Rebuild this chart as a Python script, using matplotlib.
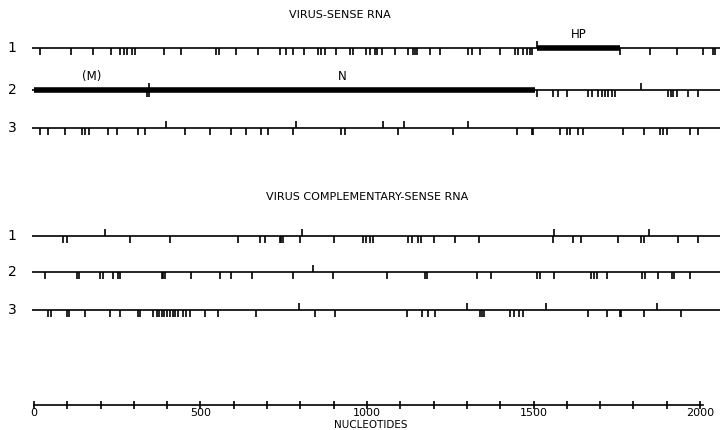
import matplotlib
matplotlib.use('Agg')
import matplotlib.pyplot as plt

# stop codons (down ticks) and start codons (up ticks), in nucleotides
vs1_stops = [18, 110, 178, 230, 258, 270, 280, 293, 303, 390, 443, 548, 556, 606, 673,
             740, 758, 778, 810, 853, 863, 873, 908, 948, 958, 998, 1008, 1023, 1029,
             1044, 1084, 1124, 1139, 1144, 1149, 1189, 1219, 1304, 1314, 1339, 1399,
             1444, 1452, 1469, 1479, 1489, 1494, 1760, 1850, 1930, 2010, 2040, 2045]
vs1_starts = [1510]
vs2_stops = [338, 345, 1510, 1560, 1573, 1600, 1663, 1675, 1695, 1707, 1715, 1725,
             1737, 1745, 1905, 1913, 1920, 1930, 1965, 1995]
vs2_starts = [345, 1823]
vs3_stops = [18, 43, 93, 143, 153, 166, 223, 248, 313, 333, 453, 528, 593, 638, 683,
             703, 778, 923, 933, 1094, 1259, 1449, 1494, 1497, 1579, 1600, 1610, 1634,
             1649, 1770, 1833, 1880, 1890, 1900, 1970, 1995]
vs3_starts = [395, 786, 1049, 1112, 1302]

cs1_stops = [88, 98, 288, 408, 613, 678, 693, 738, 743, 748, 800, 900, 988, 998, 1008,
             1018, 1124, 1134, 1154, 1163, 1200, 1265, 1335, 1560, 1619, 1644, 1754,
             1824, 1832, 1934, 1994]
cs1_starts = [213, 806, 1562, 1847]
cs2_stops = [33, 128, 136, 198, 208, 238, 253, 258, 383, 388, 393, 473, 558, 593, 656,
             778, 898, 1059, 1174, 1179, 1329, 1372, 1510, 1520, 1562, 1674, 1682, 1690,
             1720, 1825, 1835, 1875, 1917, 1923, 1970]
cs2_starts = [838]
cs3_stops = [43, 50, 98, 106, 153, 228, 258, 313, 318, 358, 368, 376, 383, 390, 398,
             408, 416, 423, 433, 448, 458, 468, 513, 553, 668, 843, 903, 1119, 1164,
             1182, 1204, 1339, 1344, 1352, 1429, 1442, 1456, 1469, 1664, 1722, 1759,
             1764, 1832, 1944]
cs3_starts = [796, 1299, 1539, 1872]

# open reading frames drawn as thick bars: (frame, start, end, label)
orfs = [('vs1', 1510, 1760, 'HP'), ('vs2', 0, 345, '(M)'), ('vs2', 345, 1505, 'N')]

axis_ticks = list(range(0, 2001, 100))
axis_labels = [0, 500, 1000, 1500, 2000]

frames = {
    'vs1': (48, vs1_stops, vs1_starts),
    'vs2': (90, vs2_stops, vs2_starts),
    'vs3': (128, vs3_stops, vs3_starts),
    'cs1': (236, cs1_stops, cs1_starts),
    'cs2': (272, cs2_stops, cs2_starts),
    'cs3': (310, cs3_stops, cs3_starts),
}

fig = plt.figure(figsize=(7.25, 4.3), dpi=100)
ax = fig.add_axes([0, 0, 1, 1])
ax.set_xlim(-102, 2075)
ax.set_ylim(430, 0)
ax.axis('off')

tick = 7
for key, (y, stops, starts) in frames.items():
    ax.plot([-5, 2060], [y, y], color='black', lw=1.2, solid_capstyle='butt')
    ax.vlines(stops, y, y + tick, color='black', lw=1.2)
    ax.vlines(starts, y - tick, y, color='black', lw=1.2)
    ax.text(-65, y, key[-1], fontsize=10, ha='center', va='center')

for key, x0, x1, lab in orfs:
    y = frames[key][0]
    ax.plot([x0, x1], [y, y], color='black', lw=4, solid_capstyle='butt')
    ax.text((x0 + x1) / 2, y - 7, lab, fontsize=8.5, ha='center', va='bottom')

ax.text(920, 15, 'VIRUS-SENSE RNA', fontsize=8, ha='center', va='center')
ax.text(1000, 197, 'VIRUS COMPLEMENTARY-SENSE RNA', fontsize=8, ha='center', va='center')

# nucleotide axis
ya = 405
ax.plot([0, 2010], [ya, ya], color='black', lw=1.2)
ax.vlines(axis_ticks, ya - 4, ya + 4, color='black', lw=1.2)
for v in axis_labels:
    ax.text(v, 413, str(v), fontsize=8, ha='center', va='center')
ax.text(1010, 425, 'NUCLEOTIDES', fontsize=7.5, ha='center', va='center')

fig.savefig('out.png', dpi=100)
